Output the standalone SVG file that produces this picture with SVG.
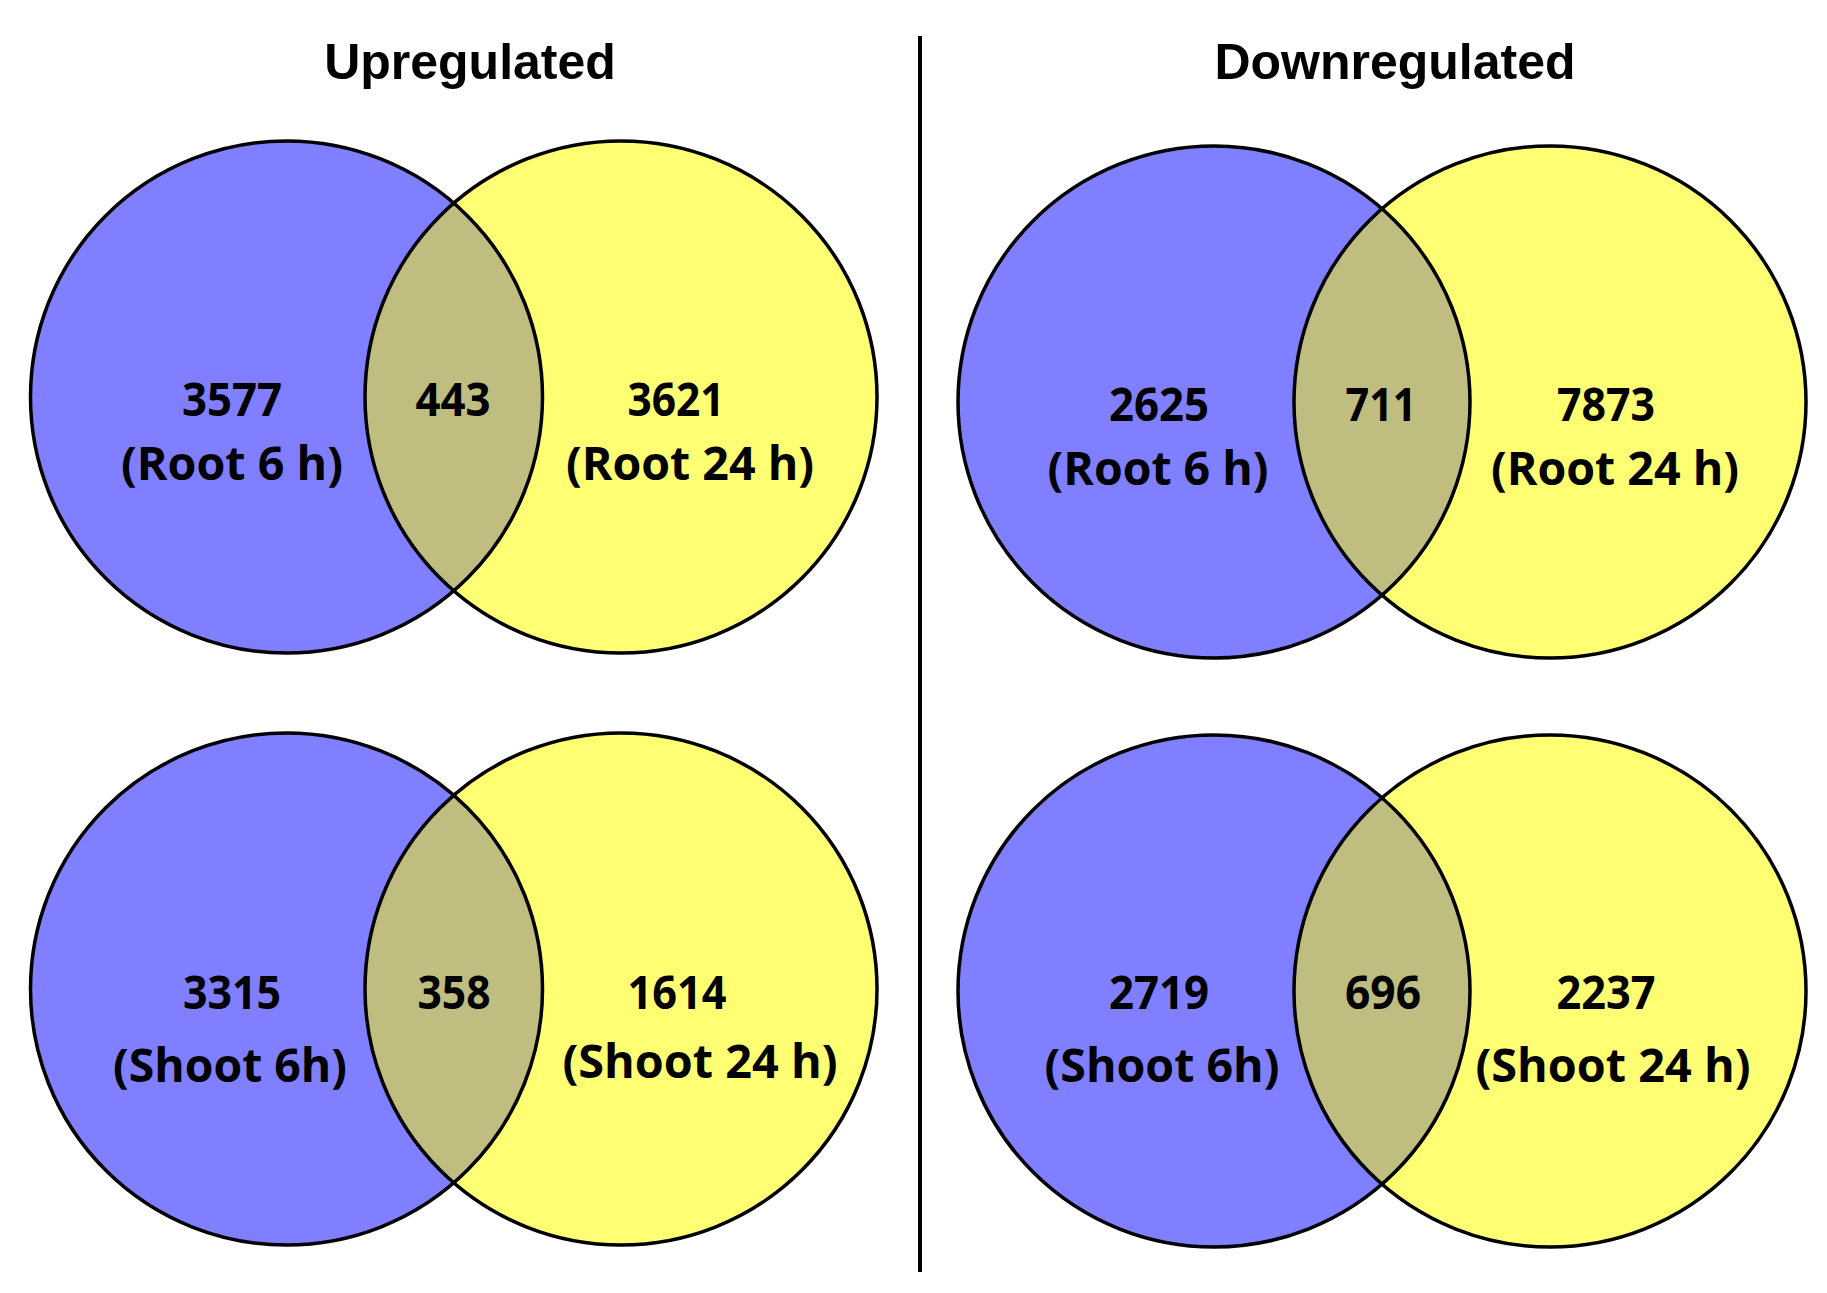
<svg xmlns="http://www.w3.org/2000/svg" width="1827" height="1293" viewBox="0 0 1827 1293">
<defs>
<style>
.blue{fill:#7f7fff;stroke:none}
.yellow{fill:#ffff73;stroke:none}
.lens{fill:#bfbe80;stroke:none}
.ring{fill:none;stroke:#000;stroke-width:3.5}
.title{font-family:"Liberation Sans",Arial,sans-serif;font-weight:bold;font-size:50px;fill:#000;text-anchor:middle}
.num{font-family:"Open Sans","Liberation Sans",sans-serif;font-weight:bold;font-size:47px;fill:#000;text-anchor:middle}
</style>
</defs>
<rect width="1827" height="1293" fill="#fff"/>
<g id="titles">
<text class="title" x="470" y="79">Upregulated</text>
<text class="title" x="1395" y="79">Downregulated</text>
</g>
<g id="connectors">
<line x1="920" y1="36" x2="920" y2="1272" stroke="#000" stroke-width="4"/>
</g>
<g id="venn-up-root">
<circle class="blue" cx="286.5" cy="397" r="256"/>
<circle class="yellow" cx="621" cy="397" r="256"/>
<path class="lens" d="M453.75,203.7 A256,256 0 0 1 453.75,590.3 A256,256 0 0 1 453.75,203.7 Z"/>
<circle class="ring" cx="286.5" cy="397" r="256"/>
<circle class="ring" cx="621" cy="397" r="256"/>
<text class="num" x="232" y="416" textLength="100" lengthAdjust="spacingAndGlyphs">3577</text>
<text class="num" x="453" y="416" textLength="75" lengthAdjust="spacingAndGlyphs">443</text>
<text class="num" x="676" y="416" textLength="97" lengthAdjust="spacingAndGlyphs">3621</text>
<text class="num" x="232" y="480" textLength="222" lengthAdjust="spacingAndGlyphs">(Root 6 h)</text>
<text class="num" x="690" y="480" textLength="248" lengthAdjust="spacingAndGlyphs">(Root 24 h)</text>
</g>
<g id="venn-down-root">
<circle class="blue" cx="1214" cy="402" r="256"/>
<circle class="yellow" cx="1550" cy="402" r="256"/>
<path class="lens" d="M1382,209.2 A256,256 0 0 1 1382,594.8 A256,256 0 0 1 1382,209.2 Z"/>
<circle class="ring" cx="1214" cy="402" r="256"/>
<circle class="ring" cx="1550" cy="402" r="256"/>
<text class="num" x="1159" y="421" textLength="100" lengthAdjust="spacingAndGlyphs">2625</text>
<text class="num" x="1381" y="421" textLength="71" lengthAdjust="spacingAndGlyphs">711</text>
<text class="num" x="1606" y="421" textLength="98" lengthAdjust="spacingAndGlyphs">7873</text>
<text class="num" x="1158" y="485" textLength="221" lengthAdjust="spacingAndGlyphs">(Root 6 h)</text>
<text class="num" x="1615" y="485" textLength="248" lengthAdjust="spacingAndGlyphs">(Root 24 h)</text>
</g>
<g id="venn-up-shoot">
<circle class="blue" cx="286.5" cy="989" r="256"/>
<circle class="yellow" cx="621" cy="989" r="256"/>
<path class="lens" d="M453.75,795.7 A256,256 0 0 1 453.75,1182.3 A256,256 0 0 1 453.75,795.7 Z"/>
<circle class="ring" cx="286.5" cy="989" r="256"/>
<circle class="ring" cx="621" cy="989" r="256"/>
<text class="num" x="232" y="1009" textLength="98" lengthAdjust="spacingAndGlyphs">3315</text>
<text class="num" x="454" y="1009" textLength="73" lengthAdjust="spacingAndGlyphs">358</text>
<text class="num" x="677" y="1009" textLength="99" lengthAdjust="spacingAndGlyphs">1614</text>
<text class="num" x="230" y="1082" textLength="234" lengthAdjust="spacingAndGlyphs">(Shoot 6h)</text>
<text class="num" x="700" y="1078" textLength="275" lengthAdjust="spacingAndGlyphs">(Shoot 24 h)</text>
</g>
<g id="venn-down-shoot">
<circle class="blue" cx="1214" cy="991" r="256"/>
<circle class="yellow" cx="1550" cy="991" r="256"/>
<path class="lens" d="M1382,798.2 A256,256 0 0 1 1382,1183.8 A256,256 0 0 1 1382,798.2 Z"/>
<circle class="ring" cx="1214" cy="991" r="256"/>
<circle class="ring" cx="1550" cy="991" r="256"/>
<text class="num" x="1159" y="1009" textLength="100" lengthAdjust="spacingAndGlyphs">2719</text>
<text class="num" x="1383" y="1009" textLength="76" lengthAdjust="spacingAndGlyphs">696</text>
<text class="num" x="1606" y="1009" textLength="99" lengthAdjust="spacingAndGlyphs">2237</text>
<text class="num" x="1162" y="1082" textLength="235" lengthAdjust="spacingAndGlyphs">(Shoot 6h)</text>
<text class="num" x="1613" y="1082" textLength="275" lengthAdjust="spacingAndGlyphs">(Shoot 24 h)</text>
</g>
</svg>
